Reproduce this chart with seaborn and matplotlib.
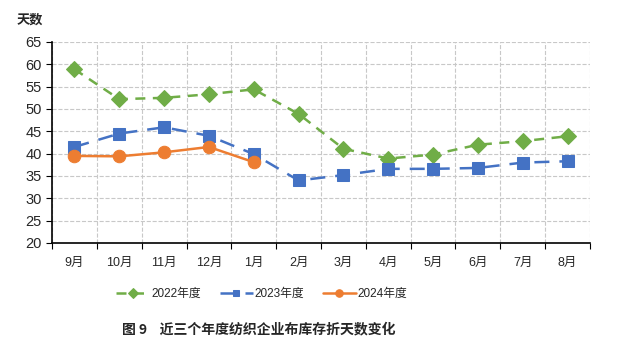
import pandas as pd
import seaborn as sns
import matplotlib.pyplot as plt

# 月份（年度从9月起）
months = ['9月', '10月', '11月', '12月', '1月', '2月', '3月', '4月', '5月', '6月', '7月', '8月']

# 布库存折天数
days_2022 = [58.9, 52.2, 52.5, 53.3, 54.4, 48.9, 41.1, 38.9, 39.8, 42.0, 42.8, 43.9]
days_2023 = [41.5, 44.5, 45.9, 44.0, 39.9, 34.0, 35.2, 36.6, 36.6, 36.8, 38.0, 38.3]
days_2024 = [39.5, 39.4, 40.3, 41.5, 38.1]

sns.set_style('white')
plt.rcParams['font.family'] = ['Liberation Sans', 'Noto Sans CJK SC', 'DejaVu Sans']

df = pd.DataFrame({'pos': range(len(months)), 'month': months,
                   '2022年度': days_2022, '2023年度': days_2023,
                   '2024年度': days_2024 + [None] * (len(months) - len(days_2024))})

fig = plt.figure(figsize=(6.32, 3.52), dpi=100)
ax = fig.add_axes([0.0823, 0.3097, 0.8512, 0.571])

sns.lineplot(data=df, x='pos', y='2022年度', ax=ax, color='#70AD47', lw=1.8,
             marker='D', markersize=8, markeredgecolor='#70AD47',
             label='2022年度')
ax.lines[-1].set_dashes([4, 3])
sns.lineplot(data=df, x='pos', y='2023年度', ax=ax, color='#4472C4', lw=1.8,
             marker='s', markersize=8, markeredgecolor='#4472C4',
             label='2023年度')
ax.lines[-1].set_dashes([6, 4])
sns.lineplot(data=df.dropna(), x='pos', y='2024年度', ax=ax, color='#ED7D31', lw=1.8,
             marker='o', markersize=9, markeredgecolor='#ED7D31',
             label='2024年度')

ax.set_xlim(-0.5, len(months) - 0.5)
ax.set_ylim(20, 65)
ax.set_yticks(range(20, 66, 5))
ax.set_xticks([i - 0.5 for i in range(len(months) + 1)])
ax.set_xticklabels([])
ax.set_xticks(range(len(months)), minor=True)
ax.set_xticklabels(months, minor=True, fontsize=9)
ax.tick_params(axis='x', which='minor', length=0, pad=10)
ax.tick_params(axis='x', which='major', length=4, direction='out', color='black', bottom=True)
ax.tick_params(axis='y', length=4, direction='out', color='black', left=True, labelsize=10.5)
ax.set_xlabel('')
ax.set_ylabel('')

ax.grid(True, which='major', color='#c8c8c8', linestyle='--', linewidth=0.8)
for s in ['top', 'right']:
    ax.spines[s].set_visible(False)
for s in ['left', 'bottom']:
    ax.spines[s].set_color('black')
    ax.spines[s].set_linewidth(1.2)

ax.legend(loc='upper center', bbox_to_anchor=(0.39, -0.17), ncol=3, frameon=False,
          fontsize=8.5, handlelength=2.8, columnspacing=1.6, handletextpad=0.15,
          markerscale=0.6)

fig.text(0.047, 0.945, '天数', fontsize=9.5, fontweight='bold',
         family=['Noto Sans CJK SC'], ha='center', va='center')
fig.text(0.41, 0.065, '图 9    近三个年度纺织企业布库存折天数变化', fontsize=10,
         fontweight='bold', family=['Noto Sans CJK SC'], ha='center', va='center')

fig.savefig('out.png', dpi=100)
